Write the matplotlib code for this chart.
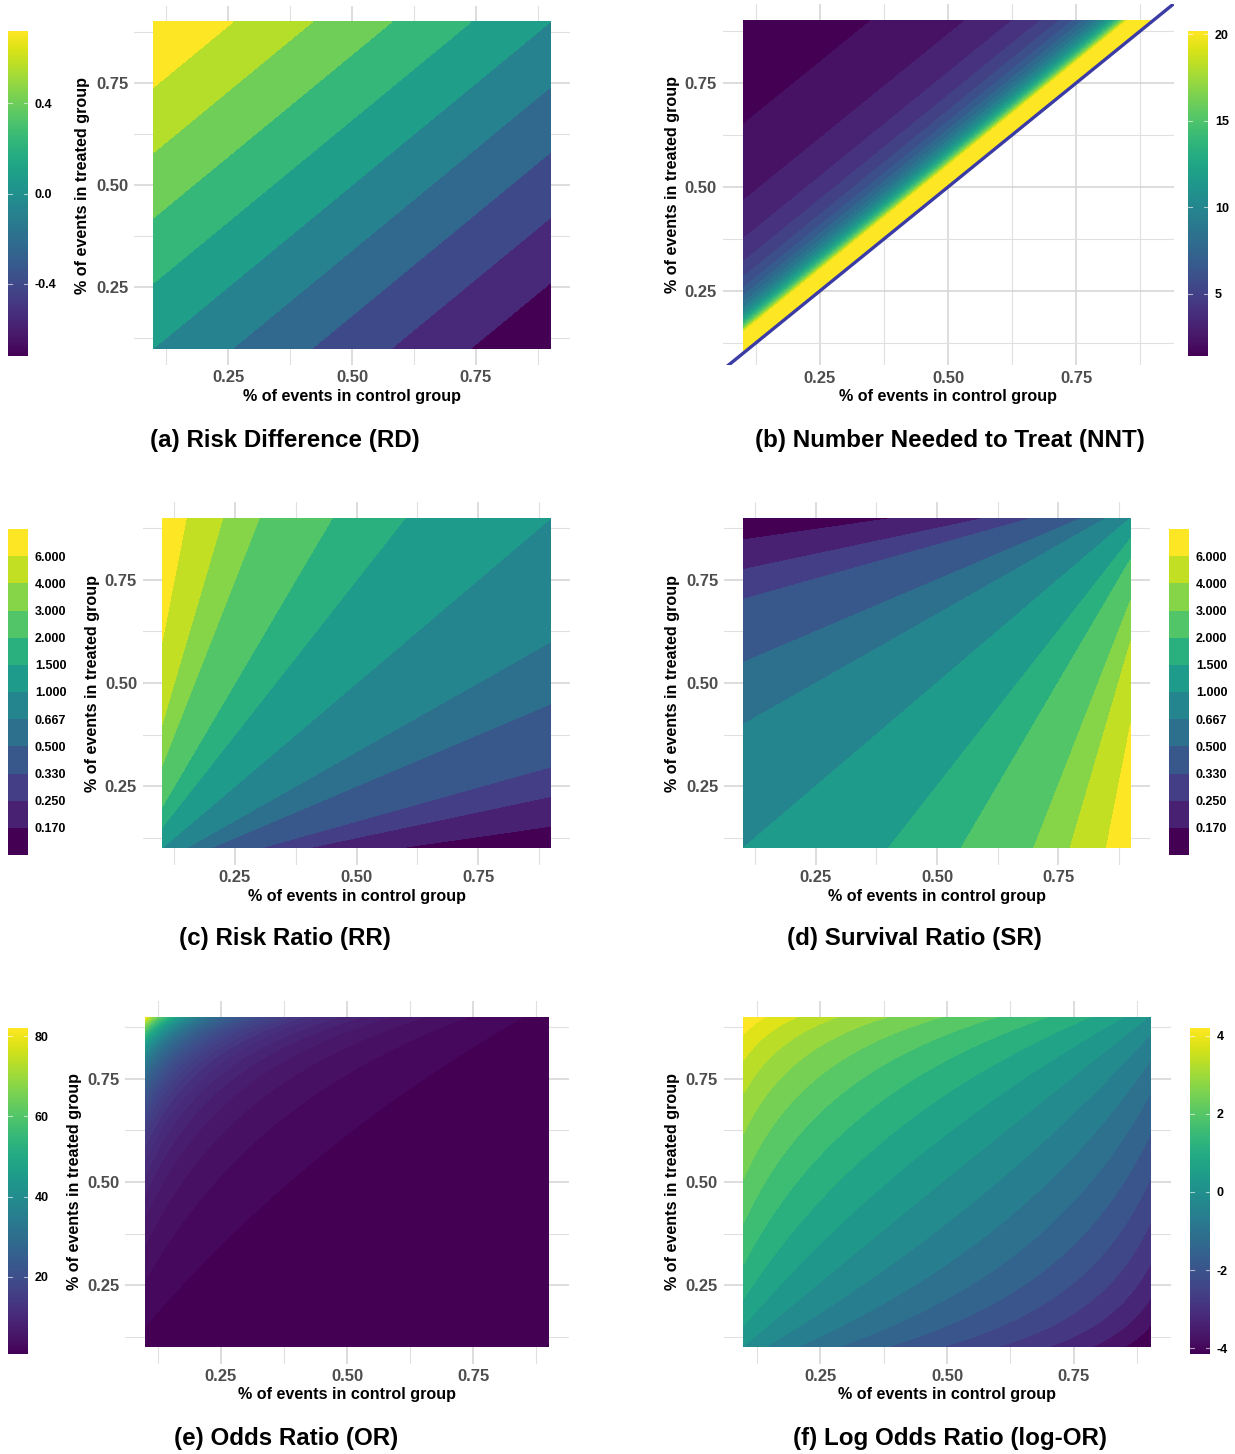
import numpy as np
import matplotlib
matplotlib.use("Agg")
import matplotlib.pyplot as plt
from matplotlib.colors import Normalize
from matplotlib.colorbar import ColorbarBase
from matplotlib.patches import Rectangle

plt.rcParams['font.family'] = ['Liberation Sans', 'DejaVu Sans']

W, H = 1235, 1454

# ---------------- data ----------------
p_control = np.linspace(0.10, 0.90, 401)
p_treated = np.linspace(0.10, 0.90, 401)

axis_ticks = [0.25, 0.50, 0.75]
axis_tick_labels = ["0.25", "0.50", "0.75"]
grid_minor = [0.125, 0.375, 0.625, 0.875]

rd_levels = [-0.81, -0.64, -0.48, -0.32, -0.16, 0.0, 0.16, 0.32, 0.48, 0.64, 0.81]
rd_range = (-0.72, 0.72)
rd_ticks = [-0.4, 0.0, 0.4]
rd_tick_labels = ["-0.4", "0.0", "0.4"]

nnt_binwidth = 20 / 22
nnt_cap = 20.5
nnt_levels = np.arange(24) * nnt_binwidth
nnt_range = (1.4, 20.2)
nnt_ticks = [5, 10, 15, 20]
nnt_tick_labels = ["5", "10", "15", "20"]

ratio_breaks = [0.17, 0.25, 0.33, 0.5, 0.667, 1.0, 1.5, 2.0, 3.0, 4.0, 6.0]
ratio_labels = ["0.170", "0.250", "0.330", "0.500", "0.667", "1.000",
                "1.500", "2.000", "3.000", "4.000", "6.000"]

or_binwidth = 1.6
or_levels = np.arange(0, 53) * or_binwidth
or_range = (0.8, 82.0)
or_ticks = [20, 40, 60, 80]
or_tick_labels = ["20", "40", "60", "80"]

logor_levels = (4.44 - 0.44 * np.arange(22))[::-1]
logor_range = (-4.15, 4.2)
logor_ticks = [-4, -2, 0, 2, 4]
logor_tick_labels = ["-4", "-2", "0", "2", "4"]

captions = ["(a) Risk Difference (RD)", "(b) Number Needed to Treat (NNT)",
            "(c) Risk Ratio (RR)", "(d) Survival Ratio (SR)",
            "(e) Odds Ratio (OR)", "(f) Log Odds Ratio (log-OR)"]

x_title = "% of events in control group"
y_title = "% of events in treated group"

# ---------------- surfaces ----------------
C, T = np.meshgrid(p_control, p_treated)
rd = T - C
with np.errstate(divide='ignore', invalid='ignore'):
    nnt_raw = np.where(T > C + 1e-9, 1.0 / (T - C), np.nan)
nnt = np.ma.masked_invalid(np.minimum(nnt_raw, nnt_cap))
rr = T / C
sr = (1 - T) / (1 - C)
odds_ratio = (T / (1 - T)) / (C / (1 - C))
log_or = np.log(odds_ratio)

fig = plt.figure(figsize=(W / 100, H / 100), dpi=100)

TICK_SIZE = 12
TITLE_SIZE = 11.6
CBAR_SIZE = 9
CAP_SIZE = 17.4


def px_axes(x0, x1, y0, y1):
    return fig.add_axes([x0 / W, 1 - y1 / H, (x1 - x0) / W, (y1 - y0) / H])


def band_colors(levels, vmin, vmax):
    levels = np.asarray(levels, dtype=float)
    mids = (levels[:-1] + levels[1:]) / 2
    return [plt.cm.viridis(np.clip((m - vmin) / (vmax - vmin), 0, 1)) for m in mids]


def setup_panel(ax, ylim=(0.06, 0.94)):
    ax.set_xlim(0.06, 0.94)
    ax.set_ylim(*ylim)
    ax.set_xticks(axis_ticks)
    ax.set_xticklabels(axis_tick_labels)
    ax.set_yticks(axis_ticks)
    ax.set_yticklabels(axis_tick_labels)
    ax.set_xticks(grid_minor, minor=True)
    ax.set_yticks(grid_minor, minor=True)
    ax.grid(which='major', color='#d3d3d3', lw=1.1)
    ax.grid(which='minor', color='#e0e0e0', lw=0.8)
    ax.set_axisbelow(True)
    for s in ax.spines.values():
        s.set_visible(False)
    ax.tick_params(which='both', length=0, labelsize=TICK_SIZE, labelcolor='#4d4d4d')
    ax.tick_params(axis='x', pad=4)
    ax.tick_params(axis='y', pad=4)
    for lbl in ax.get_xticklabels() + ax.get_yticklabels():
        lbl.set_fontweight('bold')


def titles(rect, ytitle_x, xtitle_y):
    x0, x1, y0, y1 = rect
    xc = (x0 + x1) / 2
    yc = (y0 + y1) / 2
    fig.text(xc / W, 1 - xtitle_y / H, x_title,
             ha='center', va='center', fontsize=TITLE_SIZE, fontweight='bold')
    fig.text(ytitle_x / W, 1 - yc / H, y_title,
             ha='center', va='center', rotation=90, fontsize=TITLE_SIZE, fontweight='bold')


def caption(text, x, y):
    fig.text(x / W, 1 - y / H, text, ha='center', va='center',
             fontsize=CAP_SIZE, fontweight='bold')


def cont_cbar(rect, vmin, vmax, ticks, labels):
    cax = px_axes(*rect)
    cb = ColorbarBase(cax, cmap=plt.cm.viridis, norm=Normalize(vmin, vmax),
                      orientation='vertical')
    cb.outline.set_visible(False)
    cb.set_ticks(ticks)
    cb.set_ticklabels(labels)
    cax.tick_params(length=0, pad=5, labelsize=CBAR_SIZE)
    for lbl in cax.get_yticklabels():
        lbl.set_fontweight('bold')
    for t in ticks:
        cax.plot([0, 0.2], [t, t], color='white', lw=0.8, alpha=0.6)
        cax.plot([0.8, 1], [t, t], color='white', lw=0.8, alpha=0.6)
    return cax


def disc_legend(rect, labels):
    cax = px_axes(*rect)
    n = len(labels) + 1
    cols = plt.cm.viridis(np.linspace(0, 1, n))
    for i in range(n):
        cax.add_patch(Rectangle((0, i), 1, 1, facecolor=cols[i], edgecolor='none'))
    cax.set_xlim(0, 1)
    cax.set_ylim(0, n)
    cax.set_xticks([])
    cax.set_yticks(np.arange(1, n))
    cax.set_yticklabels(labels)
    cax.yaxis.tick_right()
    cax.tick_params(length=0, pad=5, labelsize=CBAR_SIZE)
    for lbl in cax.get_yticklabels():
        lbl.set_fontweight('bold')
    for s in cax.spines.values():
        s.set_visible(False)
    return cax


# ---------------- (a) Risk difference ----------------
rect_a = (133.8, 570.2, 5.5, 364.5)
ax = px_axes(*rect_a)
setup_panel(ax)
ax.contourf(C, T, rd, levels=rd_levels, colors=band_colors(rd_levels, *rd_range), zorder=2)
titles(rect_a, 82, 397)
cont_cbar((8, 28, 31, 356), *rd_range, rd_ticks, rd_tick_labels)
caption(captions[0], 285, 440)

# ---------------- (b) NNT ----------------
rect_b = (722.5, 1173.5, 4.0, 365.0)
ax = px_axes(*rect_b)
setup_panel(ax, ylim=(0.072, 0.94))
ax.contourf(C, T, nnt, levels=nnt_levels, colors=band_colors(nnt_levels, *nnt_range), zorder=2)
ax.plot([0.06, 0.94], [0.06, 0.94], color='#3b3ba6', lw=2.4, zorder=3, solid_capstyle='butt')
titles(rect_b, 673, 397)
cont_cbar((1188, 1208, 31, 356), *nnt_range, nnt_ticks, nnt_tick_labels)
caption(captions[1], 950, 440)

# ---------------- (c) Risk ratio ----------------
ratio_levels = [0.05] + ratio_breaks + [20.0]
ratio_cols = list(plt.cm.viridis(np.linspace(0, 1, len(ratio_levels) - 1)))
rect_c = (142.6, 570.4, 501.5, 864.5)
ax = px_axes(*rect_c)
setup_panel(ax)
ax.contourf(C, T, rr, levels=ratio_levels, colors=ratio_cols, zorder=2)
titles(rect_c, 92, 896)
disc_legend((8, 28, 529, 855), ratio_labels)
caption(captions[2], 285, 939)

# ---------------- (d) Survival ratio ----------------
rect_d = (724.0, 1150.0, 501.5, 864.5)
ax = px_axes(*rect_d)
setup_panel(ax)
ax.contourf(C, T, sr, levels=ratio_levels, colors=ratio_cols, zorder=2)
titles(rect_d, 673, 896)
disc_legend((1169, 1189, 529, 855), ratio_labels)
caption(captions[3], 914, 939)

# ---------------- (e) Odds ratio ----------------
rect_e = (125.2, 568.8, 1000.5, 1363.5)
ax = px_axes(*rect_e)
setup_panel(ax)
ax.contourf(C, T, odds_ratio, levels=or_levels, colors=band_colors(or_levels, *or_range), zorder=2)
titles(rect_e, 74, 1395)
cont_cbar((8, 28, 1028, 1354), *or_range, or_ticks, or_tick_labels)
caption(captions[4], 286, 1438)

# ---------------- (f) Log odds ratio ----------------
rect_f = (723.5, 1170.5, 1000.5, 1363.5)
ax = px_axes(*rect_f)
setup_panel(ax)
ax.contourf(C, T, log_or, levels=logor_levels, colors=band_colors(logor_levels, *logor_range), zorder=2)
titles(rect_f, 673, 1395)
cont_cbar((1190, 1210, 1028, 1354), *logor_range, logor_ticks, logor_tick_labels)
caption(captions[5], 950, 1438)

fig.savefig("out.png", dpi=100)
